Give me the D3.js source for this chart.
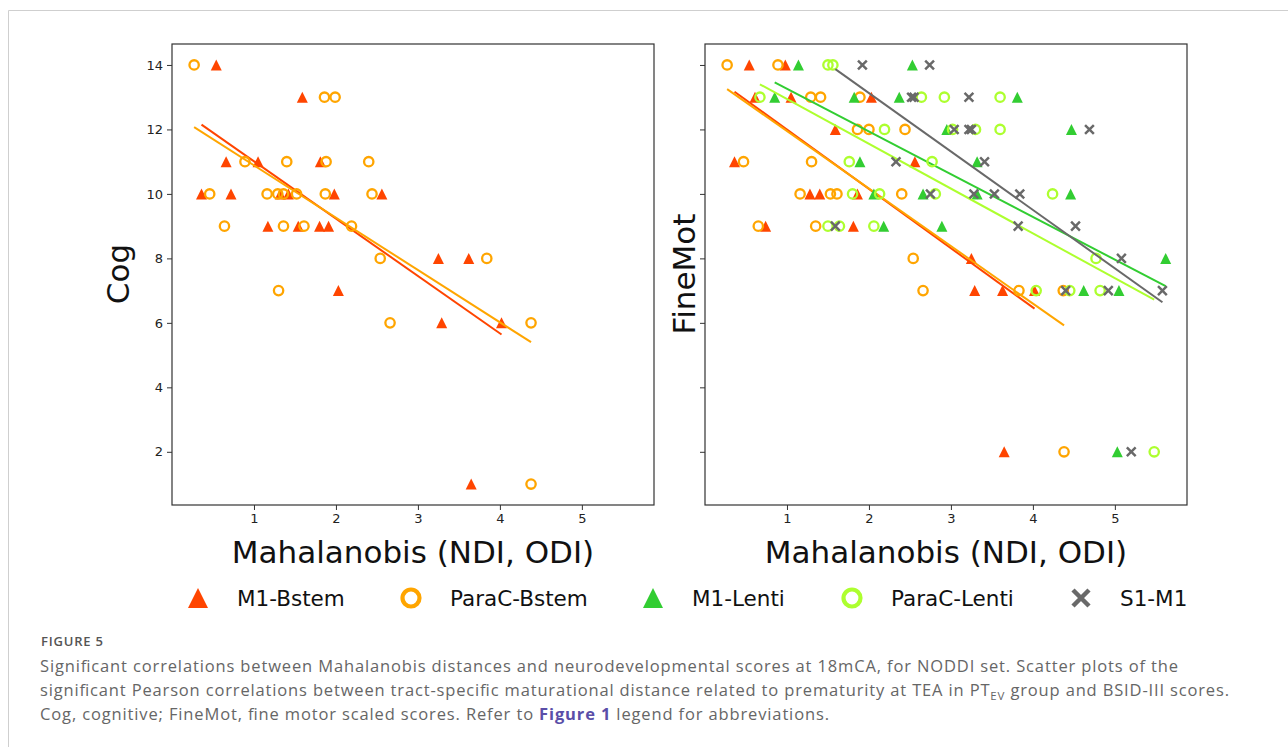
<!DOCTYPE html>
<html>
<head>
<meta charset="utf-8">
<script src="https://cdn.jsdelivr.net/npm/d3@7"></script>
<style>
  body { margin: 0; background: #fff; }
  svg { display: block; }
</style>
</head>
<body>
<script>
// ---- data ----
var seriesNames = ['M1-Bstem', 'ParaC-Bstem', 'M1-Lenti', 'ParaC-Lenti', 'S1-M1'];
var xTicks = [1, 2, 3, 4, 5];
var yTicks = [2, 4, 6, 8, 10, 12, 14];

// Cog panel
var cogM1BstemX = [0.54, 1.59, 0.66, 1.05, 1.81, 0.36, 0.72, 1.32, 1.42, 1.98, 2.56, 1.17, 1.54, 1.80, 1.91, 2.03, 3.29, 4.02, 3.65, 3.25, 3.62];
var cogM1BstemY = [14, 13, 11, 11, 11, 10, 10, 10, 10, 10, 10, 9, 9, 9, 9, 7, 6, 6, 1, 8, 8];
var cogParaCBstemX = [0.27, 1.86, 1.99, 0.89, 1.40, 1.88, 2.40, 0.46, 1.16, 1.29, 1.36, 1.52, 1.87, 2.44, 0.64, 1.36, 1.61, 2.19, 2.54, 1.30, 2.66, 4.38, 4.38, 3.84];
var cogParaCBstemY = [14, 13, 13, 11, 11, 11, 11, 10, 10, 10, 10, 10, 10, 10, 9, 9, 9, 9, 8, 7, 6, 6, 1, 8];
// regression line ends (y at smallest and largest x of the series)
var cogFitM1Bstem = [12.15, 5.64];
var cogFitParaCBstem = [12.07, 5.40];

// FineMot panel
var motM1BstemX = [0.54, 0.98, 0.61, 1.05, 2.03, 1.59, 0.36, 2.56, 1.28, 1.40, 1.86, 0.74, 1.81, 3.25, 3.29, 3.63, 4.02, 3.65];
var motM1BstemY = [14, 14, 13, 13, 13, 12, 11, 11, 10, 10, 10, 9, 9, 8, 7, 7, 7, 2];
var motParaCBstemX = [0.27, 0.89, 1.29, 1.41, 1.89, 1.86, 2.00, 2.44, 0.47, 1.30, 1.16, 1.53, 1.61, 2.40, 0.65, 1.35, 2.54, 2.66, 3.83, 4.37, 4.38];
var motParaCBstemY = [14, 14, 13, 13, 13, 12, 12, 12, 11, 11, 10, 10, 10, 10, 9, 9, 8, 7, 7, 7, 2];
var motM1LentiX = [1.14, 2.53, 0.85, 1.82, 2.37, 3.81, 2.95, 4.47, 1.89, 3.32, 2.06, 2.66, 3.32, 4.46, 2.18, 2.89, 5.62, 4.62, 5.05, 5.03];
var motM1LentiY = [14, 14, 13, 13, 13, 13, 12, 12, 11, 11, 10, 10, 10, 10, 9, 9, 8, 7, 7, 2];
var motParaCLentiX = [1.50, 1.56, 0.67, 2.64, 2.92, 3.60, 2.19, 3.02, 3.30, 3.60, 1.76, 2.77, 1.80, 2.13, 2.81, 4.24, 1.50, 1.64, 2.06, 4.77, 4.04, 4.45, 4.82, 5.48];
var motParaCLentiY = [14, 14, 13, 13, 13, 13, 12, 12, 12, 12, 11, 11, 10, 10, 10, 10, 9, 9, 9, 8, 7, 7, 7, 2];
var motS1M1X = [1.92, 2.74, 2.52, 2.55, 3.22, 3.04, 3.22, 3.25, 4.69, 2.33, 3.41, 2.75, 3.28, 3.53, 3.84, 1.59, 3.82, 4.52, 5.08, 4.40, 4.92, 5.58, 5.20];
var motS1M1Y = [14, 14, 13, 13, 13, 12, 12, 12, 12, 11, 11, 10, 10, 10, 10, 9, 9, 9, 8, 7, 7, 7, 2];
var motFitM1Bstem = [13.17, 6.44];
var motFitParaCBstem = [13.25, 5.92];
var motFitM1Lenti = [13.46, 7.14];
var motFitParaCLenti = [13.40, 6.72];
var motFitS1M1 = [13.87, 6.64];

// ---- styles ----
var colors = {
    'M1-Bstem': '#ff4500',
    'ParaC-Bstem': '#ffa500',
    'M1-Lenti': '#32cd32',
    'ParaC-Lenti': '#adff2f',
    'S1-M1': '#696969'
};
var shapes = {
    'M1-Bstem': 'tri',
    'ParaC-Bstem': 'circle',
    'M1-Lenti': 'tri',
    'ParaC-Lenti': 'circle',
    'S1-M1': 'x'
};

function zip(xs, ys) {
    return xs.map(function (x, i) { return { x: x, y: ys[i] }; });
}

var panels = [
    {
        label: 'Cog', left: 172, showYLabels: true,
        series: [
            { name: 'M1-Bstem', pts: zip(cogM1BstemX, cogM1BstemY), fit: cogFitM1Bstem },
            { name: 'ParaC-Bstem', pts: zip(cogParaCBstemX, cogParaCBstemY), fit: cogFitParaCBstem }
        ]
    },
    {
        label: 'FineMot', left: 705, showYLabels: false,
        series: [
            { name: 'M1-Bstem', pts: zip(motM1BstemX, motM1BstemY), fit: motFitM1Bstem },
            { name: 'ParaC-Bstem', pts: zip(motParaCBstemX, motParaCBstemY), fit: motFitParaCBstem },
            { name: 'M1-Lenti', pts: zip(motM1LentiX, motM1LentiY), fit: motFitM1Lenti },
            { name: 'ParaC-Lenti', pts: zip(motParaCLentiX, motParaCLentiY), fit: motFitParaCLenti },
            { name: 'S1-M1', pts: zip(motS1M1X, motS1M1Y), fit: motFitS1M1 }
        ]
    }
];

var W = 1288, H = 747;
var plotW = 482, plotTop = 44, plotH = 461;

var svg = d3.select('body').append('svg')
    .attr('width', W)
    .attr('height', H);

// card border
svg.append('path')
    .attr('d', 'M8.5,' + H + 'V10.5H' + W)
    .attr('fill', 'none')
    .attr('stroke', '#cfcfcf')
    .attr('stroke-width', 1);

function drawMarker(sel, shape, color, s) {
    if (shape === 'tri') {
        sel.append('path')
            .attr('d', 'M0,' + (-s) + 'L' + s + ',' + s + 'L' + (-s) + ',' + s + 'Z')
            .attr('fill', color);
    } else if (shape === 'circle') {
        sel.append('circle')
            .attr('r', s * 0.85)
            .attr('fill', 'none')
            .attr('stroke', color)
            .attr('stroke-width', s * 0.42);
    } else {
        var k = s * 0.8;
        sel.append('path')
            .attr('d', 'M' + (-k) + ',' + (-k) + 'L' + k + ',' + k + 'M' + (-k) + ',' + k + 'L' + k + ',' + (-k))
            .attr('stroke', color)
            .attr('stroke-width', s * 0.45)
            .attr('fill', 'none');
    }
}

panels.forEach(function (p) {
    var x = d3.scaleLinear().domain([0.0, 5.88]).range([0, plotW]);
    var y = d3.scaleLinear().domain([0.35, 14.65]).range([plotH, 0]);

    var g = svg.append('g')
        .attr('transform', 'translate(' + p.left + ',' + plotTop + ')');

    // series: points then fit line
    p.series.forEach(function (s) {
        var c = colors[s.name];
        g.append('g').selectAll('g')
            .data(s.pts)
            .enter()
            .append('g')
            .attr('transform', function (d) { return 'translate(' + x(d.x) + ',' + y(d.y) + ')'; })
            .each(function () { drawMarker(d3.select(this), shapes[s.name], c, 5.5); });

        var ext = d3.extent(s.pts, function (d) { return d.x; });
        g.append('path')
            .datum([{ x: ext[0], y: s.fit[0] }, { x: ext[1], y: s.fit[1] }])
            .attr('fill', 'none')
            .attr('stroke', c)
            .attr('stroke-width', 2)
            .attr('d', d3.line()
                .x(function (d) { return x(d.x); })
                .y(function (d) { return y(d.y); }));
    });

    // frame
    g.append('rect')
        .attr('width', plotW)
        .attr('height', plotH)
        .attr('fill', 'none')
        .attr('stroke', '#333')
        .attr('stroke-width', 1.2);

    // x axis
    var xa = g.append('g')
        .attr('transform', 'translate(0,' + plotH + ')')
        .call(d3.axisBottom(x).tickValues(xTicks).tickSize(5).tickPadding(4).tickFormat(d3.format('d')));
    xa.select('.domain').remove();

    // y axis
    var ya = g.append('g')
        .call(d3.axisLeft(y).tickValues(yTicks).tickSize(5).tickPadding(4)
            .tickFormat(p.showYLabels ? d3.format('d') : function () { return ''; }));
    ya.select('.domain').remove();

    g.selectAll('.tick line').attr('stroke', '#333');
    g.selectAll('.tick text')
        .attr('font-family', 'DejaVu Sans, sans-serif')
        .attr('font-size', '13px')
        .attr('fill', '#222');

    // axis titles
    g.append('text')
        .attr('x', plotW / 2)
        .attr('y', plotH + 58)
        .attr('text-anchor', 'middle')
        .attr('font-family', 'DejaVu Sans, sans-serif')
        .attr('font-size', '31px')
        .attr('fill', '#111')
        .text('Mahalanobis (NDI, ODI)');

    g.append('text')
        .attr('transform', 'rotate(-90)')
        .attr('x', -230)
        .attr('y', p.showYLabels ? -43 : -10)
        .attr('text-anchor', 'middle')
        .attr('font-family', 'DejaVu Sans, sans-serif')
        .attr('font-size', '31px')
        .attr('fill', '#111')
        .text(p.label);
});

// legend
var legendX = [198, 411, 653, 852, 1081];
var legend = svg.append('g').attr('transform', 'translate(0,598)');
seriesNames.forEach(function (name, i) {
    var item = legend.append('g').attr('transform', 'translate(' + legendX[i] + ',0)');
    drawMarker(item, shapes[name], colors[name], 10);
    item.append('text')
        .attr('x', 39)
        .attr('y', 7.5)
        .attr('font-family', 'DejaVu Sans, sans-serif')
        .attr('font-size', '21.5px')
        .attr('fill', '#111')
        .text(name);
});

// caption
var cap = svg.append('g')
    .attr('font-family', 'Open Sans, sans-serif')
    .attr('fill', '#666');

cap.append('text')
    .attr('x', 41)
    .attr('y', 646)
    .attr('font-size', '13px')
    .attr('font-weight', 600)
    .attr('fill', '#555')
    .attr('textLength', 62)
    .attr('lengthAdjust', 'spacing')
    .text('FIGURE 5');

var line1 = cap.append('text').attr('x', 40).attr('y', 672).attr('font-size', '16.5px')
    .attr('textLength', 1138).attr('lengthAdjust', 'spacing');
line1.text('Significant correlations between Mahalanobis distances and neurodevelopmental scores at 18mCA, for NODDI set. Scatter plots of the');

var line2 = cap.append('text').attr('x', 40).attr('y', 696).attr('font-size', '16.5px')
    .attr('textLength', 1189).attr('lengthAdjust', 'spacing');
line2.append('tspan').text('significant Pearson correlations between tract-specific maturational distance related to prematurity at TEA in PT');
line2.append('tspan').attr('font-size', '11.5px').attr('dy', 4).text('EV');
line2.append('tspan').attr('dy', -4).text(' group and BSID-III scores.');

var line3 = cap.append('text').attr('x', 40).attr('y', 720).attr('font-size', '16.5px')
    .attr('textLength', 789).attr('lengthAdjust', 'spacing');
line3.append('tspan').text('Cog, cognitive; FineMot, fine motor scaled scores. Refer to ');
line3.append('tspan').attr('fill', '#5a4ea8').attr('font-weight', 'bold').text('Figure 1');
line3.append('tspan').text(' legend for abbreviations.');
</script>
</body>
</html>
